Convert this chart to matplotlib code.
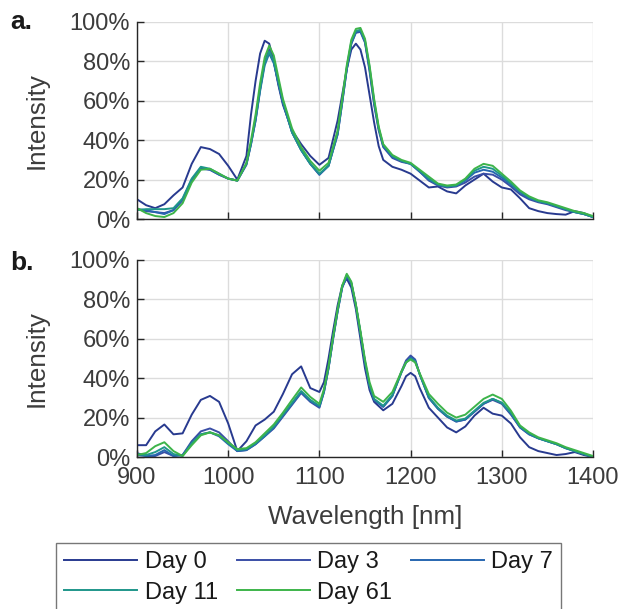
import matplotlib
matplotlib.use("Agg")
import matplotlib.pyplot as plt
from matplotlib.ticker import PercentFormatter

plt.rcParams['font.family'] = ['Liberation Sans', 'DejaVu Sans']

labels = ["Day 0", "Day 3", "Day 7", "Day 11", "Day 61"]
colors = ["#283a8f", "#3a4ea6", "#2766b0", "#1f968a", "#3db44a"]

# ---------- panel a ----------
wl_a = [900, 910, 920, 930, 940, 950, 960, 970, 980, 990, 1000, 1010, 1020,
        1025, 1030, 1035, 1040, 1045, 1050, 1055, 1060,
        1070, 1080, 1090, 1100, 1110, 1120,
        1125, 1130, 1135, 1140, 1145, 1150, 1155, 1160, 1165, 1170,
        1180, 1190, 1200, 1210, 1220, 1230, 1240, 1250, 1260, 1270, 1280, 1290,
        1300, 1310, 1320, 1330, 1340, 1350, 1360, 1370, 1380, 1390, 1400]

a_day0 = [10, 7, 5.5, 7.5, 12, 16, 28, 36.5, 35.5, 33, 27, 20, 32,
          53, 70, 84, 90.5, 89, 80, 68, 58,
          45, 38, 32, 27.5, 31, 50,
          63, 76, 86, 89, 86, 77, 63, 49, 37, 30,
          26.5, 25, 23, 19.5, 16, 16.5, 14, 13, 17, 20, 23, 19,
          16, 15, 10.5, 5.5, 4, 3, 2.5, 2.2, 4, 3, 1]
a_day3 = [5, 4, 3.5, 3, 4.5, 9.5, 19.5, 25.5, 25, 22.5, 20.5, 19.5, 27.5,
          38, 50, 66, 80, 86, 80, 69, 59,
          44, 35, 28, 22.5, 27, 43,
          59, 76, 89, 94.5, 95, 89.5, 75, 58, 45, 36.5,
          31, 29, 28, 24, 19.5, 17, 16, 16.5, 18.5, 21.5, 23, 22.5,
          20, 16.5, 12.5, 10, 8.5, 7.5, 6, 4.5, 3.5, 2.5, 1]
a_day7 = [5, 4.5, 3.5, 2.5, 4.5, 10, 20, 26, 25, 22.5, 20.5, 19.5, 28,
          38, 50, 65, 78, 84, 79, 69, 59,
          44, 35, 28, 22.5, 27, 43,
          59, 76, 89, 95, 95.5, 90, 76, 59, 46, 37,
          31.5, 29.5, 28, 24, 20, 17.5, 16.5, 17, 19.5, 23.5, 25, 24,
          21, 17.5, 13.5, 10.5, 9, 8, 6.5, 5, 3.5, 2.5, 1]
a_day11 = [4.5, 5, 5, 5, 5.5, 10.5, 20.5, 26.5, 25.5, 23, 20.5, 19.5, 28,
           38.5, 51, 66, 79, 85, 80, 70, 60,
           44, 35, 28, 23, 27, 44,
           60, 77, 90, 95.5, 96, 90.5, 77, 60, 46, 37.5,
           32, 29.5, 28, 24.5, 20.5, 17.5, 16.5, 17, 20, 24.5, 26.5, 25.5,
           22, 18, 14, 11, 9, 8, 6.5, 5, 3.5, 2.5, 1]
a_day61 = [5.5, 3, 1.5, 1, 3, 8, 18.5, 25, 25.5, 23, 20.5, 19.5, 28.5,
           40, 53, 69, 82, 88, 83, 72, 61,
           46, 36.5, 29.5, 24.5, 28.5, 45,
           61, 78, 91, 96.5, 97, 91.5, 78, 61, 47, 38,
           32.5, 30, 28.5, 25, 21.5, 18, 17, 17.5, 20.5, 25.5, 28, 27,
           23, 19, 14.5, 11.5, 9.5, 8.5, 7, 5.5, 4, 3, 1.5]

# ---------- panel b ----------
wl_b = [900, 910, 920, 930, 940, 950, 960, 970, 980, 990, 1000, 1010, 1020, 1030, 1040,
        1050, 1060, 1070, 1080, 1090, 1100,
        1105, 1110, 1115, 1120, 1125, 1130, 1135, 1140, 1145, 1150, 1155, 1160,
        1170, 1180, 1190, 1195, 1200, 1205,
        1210, 1220, 1230, 1240, 1250, 1260, 1270, 1280, 1290, 1300, 1310,
        1320, 1330, 1340, 1350, 1360, 1370, 1380, 1390, 1400]

b_day0 = [6, 6, 13, 16.5, 11.5, 12, 21.5, 29, 31, 28, 17, 3, 8, 16, 19,
          23, 32, 42, 46, 35, 33,
          38, 50, 64, 77, 87, 90.5, 86, 75, 60, 45, 34, 28,
          23.7, 27, 36, 41, 42.7, 41,
          35, 25, 20, 15, 12.5, 15.5, 21, 25, 22, 21, 17,
          10, 5, 3, 2, 1, 1.5, 2.5, 1, 0]
b_day3 = [2, 0.5, 0.5, 2.5, 0.5, 1, 8, 13, 14.5, 12.5, 8, 3, 3.5, 6.5, 10.5,
          14.5, 20.5, 26.5, 32.5, 28, 25,
          33, 45, 60, 74, 86, 91.5, 88, 77, 63, 48, 36, 29,
          25.5, 31, 43.5, 49, 51.5, 49.5,
          42, 30, 24.5, 20.5, 18, 19, 23, 27, 29, 27, 21.5,
          15, 11.5, 9.5, 8, 6.5, 4.5, 3, 1.5, 0]
b_day7 = [1, 0.5, 1, 3.5, 0.5, 1, 7, 11.5, 12.5, 10.5, 6.5, 3, 3.5, 6.5, 10.5,
          15, 21, 27, 33, 28.5, 25.5,
          33, 45, 60, 74, 86, 92, 88, 77, 63, 48, 36, 29,
          25.5, 31, 43, 48, 50.5, 49,
          42, 30, 24.5, 20.5, 18, 19, 23, 27, 29.5, 27.5, 22,
          15, 11.5, 9.5, 8, 6.5, 4.5, 3, 1.5, 0]
b_day11 = [1.5, 1, 2.5, 5, 1.5, 0.5, 7, 11.5, 12.5, 11, 7, 3.5, 4, 7, 11,
           15.5, 21.5, 27.5, 33.5, 29, 26,
           33.5, 45.5, 60.5, 74.5, 86.5, 92.5, 88.5, 77, 63, 48.5, 36.5, 29.5,
           26, 31.5, 43, 48, 50, 48.5,
           42, 30.5, 25, 21, 18.5, 19.5, 23.5, 27.5, 29.5, 27.5, 22.5,
           15.5, 12, 9.5, 8, 6.5, 4.5, 3, 1.5, 0]
b_day61 = [1, 2, 5.5, 7.5, 3, 0.5, 6, 11, 12.5, 11, 7.5, 4, 4.5, 7.5, 12,
           16.5, 22.5, 29, 35.3, 30.5, 27,
           34.5, 46, 61, 75, 87, 93, 89, 77.5, 64, 49.5, 38, 31,
           28, 33, 43.5, 48, 49.5, 48,
           42.5, 32, 27, 22.5, 20, 21.5, 25.5, 29.5, 31.7, 29.5, 23.5,
           16, 12.5, 10, 8.5, 7, 5, 3.5, 2, 0.5]

xticks = [900, 1000, 1100, 1200, 1300, 1400]
yticks = [0, 20, 40, 60, 80, 100]

series_a = [a_day0, a_day3, a_day7, a_day11, a_day61]
series_b = [b_day0, b_day3, b_day7, b_day11, b_day61]

W, H = 622, 609
fig = plt.figure(figsize=(W / 100, H / 100), dpi=100)

tick_c = "#3c3c3c"
L, R = 137 / W, 593 / W
ax_a = fig.add_axes([L, 1 - 219 / H, R - L, (219 - 22) / H])
ax_b = fig.add_axes([L, 1 - 457 / H, R - L, (457 - 260) / H])

for ax, wl, series in [(ax_a, wl_a, series_a), (ax_b, wl_b, series_b)]:
    for vals, c, lab in zip(series, colors, labels):
        ax.plot(wl, vals, color=c, lw=1.4, label=lab, solid_joinstyle="round")
    ax.set_xlim(900, 1400)
    ax.set_ylim(0, 100)
    ax.set_xticks(xticks)
    ax.set_yticks(yticks)
    ax.yaxis.set_major_formatter(PercentFormatter(decimals=0))
    ax.grid(True, color="#dcdcdc", lw=1.0)
    ax.set_axisbelow(True)
    for s in ["top", "right"]:
        ax.spines[s].set_visible(False)
    for s in ["left", "bottom"]:
        ax.spines[s].set_color("#262626")
        ax.spines[s].set_linewidth(1.0)
    ax.tick_params(direction="in", length=5, width=1.0, color="#262626",
                   labelsize=17, labelcolor=tick_c)
    ax.tick_params(axis="y", pad=5)
    ax.tick_params(axis="x", pad=7)
    ax.set_ylabel("Intensity", fontsize=18.7, color=tick_c, labelpad=15)

ax_a.tick_params(labelbottom=False)
ax_b.set_xlabel("Wavelength [nm]", fontsize=18.7, color=tick_c, labelpad=12)

fig.text(10 / W, 1 - 22 / H, "a.", fontsize=19, fontweight="bold", color="#1a1a1a", va="center")
fig.text(10 / W, 1 - 263 / H, "b.", fontsize=19, fontweight="bold", color="#1a1a1a", va="center")

handles, labs = ax_a.get_legend_handles_labels()
order = [0, 3, 1, 4, 2]  # row-wise reading: Day 0, Day 3, Day 7 / Day 11, Day 61
leg = fig.legend([handles[i] for i in order], [labs[i] for i in order],
                 loc="upper left", bbox_to_anchor=(56 / W, 1 - 543 / H),
                 ncol=3, fontsize=17, frameon=True, fancybox=False, borderaxespad=0,
                 handlelength=3.1, handletextpad=0.3, columnspacing=0.8,
                 borderpad=0.35, labelspacing=0.35)
leg.get_frame().set_edgecolor("#555555")
leg.get_frame().set_linewidth(1.0)
for t in leg.get_texts():
    t.set_color("#1a1a1a")

fig.savefig("out.png", dpi=100)
